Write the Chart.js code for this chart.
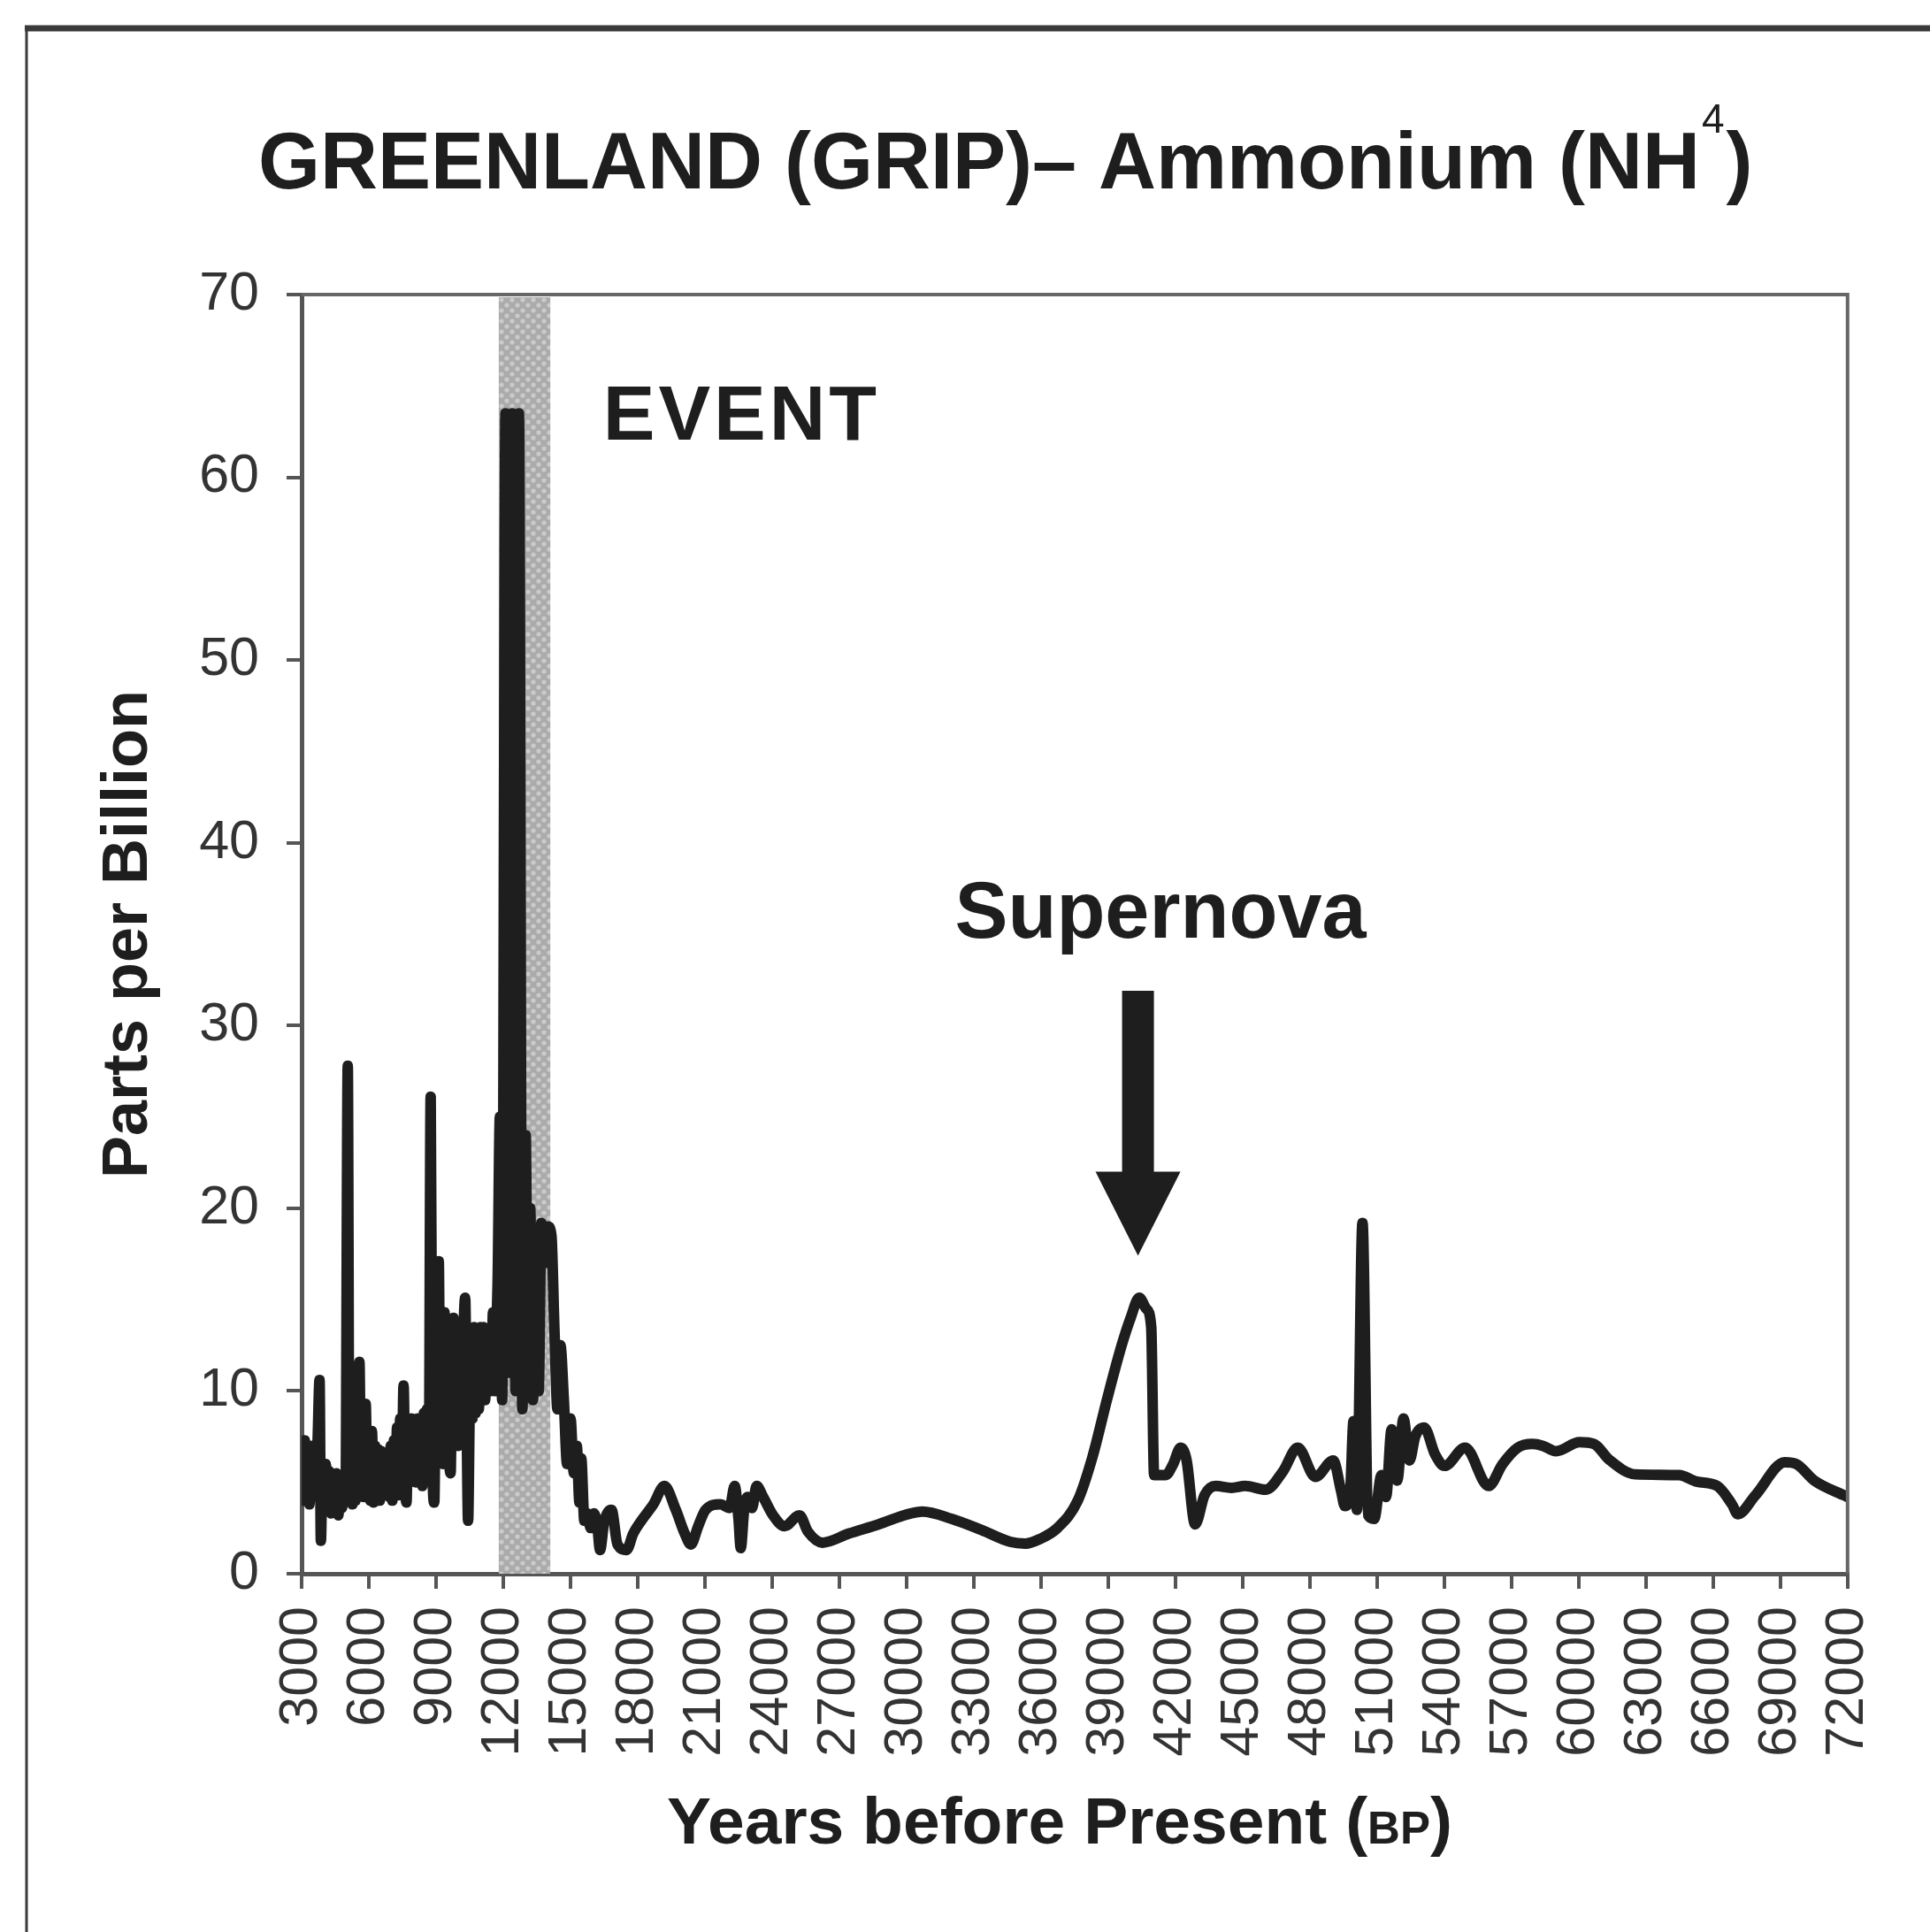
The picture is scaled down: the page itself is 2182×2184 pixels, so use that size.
<!DOCTYPE html>
<html>
<head>
<meta charset="utf-8">
<title>GREENLAND (GRIP) – Ammonium</title>
<script src="https://cdn.jsdelivr.net/npm/chart.js@4.4.1/dist/chart.umd.min.js"></script>
<style>
  html, body { margin: 0; padding: 0; background: #fff; }
  #graph-container { width: 2182px; height: 2184px; position: relative; }
</style>
</head>
<body>
<div id="graph-container"><canvas id="grip"></canvas></div>
<script>
// GRIP ice core, ammonium concentration against age
const years = [
  3000, 3070, 3140, 3210, 3280, 3350, 3420, 3490, 3560, 3640,
  3720, 3800, 3860, 3930, 4000, 4080, 4160, 4240, 4320, 4400,
  4480, 4560, 4640, 4720, 4800, 4880, 4960, 5060, 5130, 5200,
  5270, 5340, 5410, 5480, 5580, 5650, 5720, 5790, 5860, 5930,
  6000, 6070, 6140, 6210, 6280, 6350, 6420, 6490, 6560, 6630,
  6700, 6770, 6840, 6910, 6980, 7050, 7120, 7190, 7260, 7330,
  7400, 7470, 7550, 7620, 7680, 7750, 7820, 7900, 7970, 8040,
  8110, 8180, 8250, 8320, 8390, 8460, 8530, 8600, 8680, 8760,
  8840, 8920, 8990, 9060, 9120, 9190, 9250, 9320, 9380, 9450,
  9520, 9590, 9650, 9720, 9780, 9850, 9920, 9990, 10060, 10130,
  10200, 10300, 10370, 10430, 10500, 10560, 10630, 10700, 10770, 10840,
  10910, 10980, 11050, 11120, 11190, 11260, 11330, 11400, 11470, 11540,
  11610, 11680, 11750, 11850, 11950, 12100, 12250, 12400, 12550, 12700,
  12850, 13000, 13100, 13200, 13320, 13450, 13580, 13700, 13850, 14000,
  14150, 14280, 14420, 14550, 14700, 14850, 15000, 15150, 15280, 15400,
  15480, 15620, 15750, 15900, 16050, 16200, 16320, 16500, 16830, 17100,
  17500, 17800, 18160, 18700, 19190, 19700, 20100, 20370, 20700, 21030,
  21690, 22100, 22330, 22500, 22600, 22750, 22900, 23100, 23310, 23600,
  24040, 24560, 25220, 25600, 26250, 27430, 28750, 30060, 30710, 32020,
  33330, 34640, 35300, 35950, 36730, 37640, 38300, 38960, 39600, 40000,
  40390, 40700, 40920, 41050, 41570, 41900, 42230, 42500, 42880, 43300,
  43800, 44500, 45110, 46030, 46800, 47460, 48250, 49040, 49400, 49560,
  49800, 49950, 50100, 50350, 50600, 50870, 51200, 51400, 51650, 51900,
  52180, 52450, 52700, 53100, 53600, 54010, 54930, 55980, 56600, 57280,
  57940, 58400, 58990, 60040, 60690, 61350, 62520, 64480, 65270, 66190,
  66840, 67100, 67890, 69200, 69720, 70510, 71820, 72000
];

const ammonium = [
  6.6, 4.0, 7.3, 4.5, 6.5, 3.8, 7.0, 4.2, 6.8, 4.6,
  7.5, 10.6, 1.8, 5.5, 3.4, 6.0, 3.6, 5.6, 3.3, 5.2,
  3.5, 5.5, 3.2, 4.8, 3.6, 4.5, 4.0, 27.8, 4.5, 8.0,
  3.8, 9.5, 4.0, 8.5, 11.6, 4.5, 9.0, 4.2, 9.3, 4.5,
  7.5, 4.0, 7.8, 3.9, 7.0, 4.2, 6.8, 4.0, 6.7, 4.3,
  6.5, 4.4, 6.2, 4.2, 7.0, 4.0, 7.3, 4.5, 8.0, 4.3,
  8.5, 4.8, 10.3, 5.0, 3.9, 8.0, 5.0, 8.5, 5.2, 8.0,
  5.0, 8.5, 5.4, 8.2, 4.8, 8.8, 5.4, 9.0, 6.0, 26.1,
  6.0, 3.9, 10.0, 6.0, 17.1, 6.5, 12.5, 6.0, 14.3, 7.0,
  13.5, 6.5, 5.5, 13.0, 14.0, 7.5, 12.5, 7.0, 11.5, 7.5,
  12.0, 15.1, 8.0, 2.9, 9.0, 13.2, 8.5, 13.5, 8.8, 12.0,
  9.0, 13.5, 9.5, 13.5, 9.5, 12.5, 10.0, 13.0, 10.0, 14.3,
  10.0, 13.0, 16.0, 25.0, 9.5, 63.5, 11.0, 63.5, 10.0, 63.5,
  9.0, 24.0, 11.0, 20.0, 9.5, 13.0, 10.0, 19.2, 17.0, 19.0,
  18.5, 13.5, 9.0, 12.5, 9.6, 6.0, 8.5, 5.5, 7.0, 3.9,
  6.3, 2.9, 3.3, 2.5, 3.3, 2.6, 1.3, 2.8, 3.5, 1.6,
  1.3, 2.2, 2.9, 3.8, 4.8, 3.5, 2.2, 1.6, 2.6, 3.5,
  3.8, 3.6, 4.8, 3.0, 1.4, 3.5, 4.2, 3.6, 4.8, 4.2,
  3.2, 2.6, 3.2, 2.3, 1.7, 2.2, 2.7, 3.26, 3.4, 3.0,
  2.4, 1.74, 1.65, 1.9, 2.5, 4.0, 6.4, 9.6, 12.5, 14.0,
  15.1, 14.5, 13.5, 5.4, 5.4, 6.0, 6.9, 6.2, 2.7, 4.3,
  4.8, 4.7, 4.8, 4.6, 5.6, 6.9, 5.3, 6.2, 4.5, 3.7,
  4.5, 8.35, 3.5, 19.2, 3.2, 3.0, 5.4, 4.2, 7.9, 5.1,
  8.5, 6.2, 7.5, 8.0, 6.5, 5.9, 6.9, 4.8, 6.0, 6.9,
  7.1, 7.0, 6.7, 7.2, 7.1, 6.25, 5.44, 5.4, 5.04, 4.8,
  3.8, 3.26, 4.3, 6.1, 6.0, 5.1, 4.3, 4.2
];

// Shaded event interval (years BP)
const eventSpan = [11800, 14100];

// Axis ticks
const yTicks = { min: 0, max: 70, step: 10 };
const xTicks = { min: 3000, max: 72000, step: 3000 };

document.addEventListener('DOMContentLoaded', () => {
  const FONT = '"Liberation Sans", Arial, Helvetica, sans-serif';
  const INK = '#1e1e1e';
  const canvas = document.getElementById('grip');
  const ctx = canvas.getContext('2d');

  // halftone grey used for the event band
  function bandPattern(c) {
    const tile = document.createElement('canvas');
    tile.width = 12;
    tile.height = 12;
    const t = tile.getContext('2d');
    t.fillStyle = '#ababab';
    t.fillRect(0, 0, 12, 12);
    t.fillStyle = '#cbcbcb';
    t.beginPath(); t.arc(3, 3, 2.6, 0, Math.PI * 2); t.fill();
    t.beginPath(); t.arc(9, 9, 2.6, 0, Math.PI * 2); t.fill();
    return c.createPattern(tile, 'repeat');
  }

  const decorations = {
    id: 'decorations',
    beforeDatasetsDraw(chart) {
      const { ctx, chartArea, scales: { x } } = chart;
      const x0 = x.getPixelForValue(eventSpan[0]);
      const x1 = x.getPixelForValue(eventSpan[1]);
      ctx.save();
      ctx.fillStyle = bandPattern(ctx);
      ctx.fillRect(x0, chartArea.top + 3, x1 - x0, chartArea.bottom - chartArea.top - 3);
      ctx.restore();
    },
    afterDraw(chart) {
      const { ctx, chartArea, scales: { x, y } } = chart;
      ctx.save();

      // outer frame
      ctx.strokeStyle = '#3a3a3a';
      ctx.lineWidth = 7;
      ctx.beginPath();
      ctx.moveTo(28, 32);
      ctx.lineTo(2182, 32);
      ctx.stroke();
      ctx.lineWidth = 3;
      ctx.beginPath();
      ctx.moveTo(30, 30);
      ctx.lineTo(30, 2184);
      ctx.stroke();

      // top and right sides of the plot box
      ctx.strokeStyle = '#666';
      ctx.lineWidth = 4;
      ctx.beginPath();
      ctx.moveTo(chartArea.left, chartArea.top);
      ctx.lineTo(chartArea.right, chartArea.top);
      ctx.lineTo(chartArea.right, chartArea.bottom);
      ctx.stroke();

      ctx.fillStyle = INK;
      ctx.textBaseline = 'alphabetic';
      ctx.textAlign = 'left';

      // main title with superscript
      ctx.font = 'bold 90px ' + FONT;
      const main = 'GREENLAND (GRIP)– Ammonium (NH';
      let tx = 292;
      ctx.fillText(main, tx, 213);
      tx += ctx.measureText(main).width;
      ctx.font = '46px ' + FONT;
      ctx.fillText('4', tx + 2, 150);
      tx += ctx.measureText('4').width + 4;
      ctx.font = 'bold 90px ' + FONT;
      ctx.fillText(')', tx, 213);

      // x axis title with small capitals
      const big = 'bold 75px ' + FONT;
      const small = 'bold 51px ' + FONT;
      const parts = [['Years before Present (', big], ['BP', small], [')', big]];
      let total = 0;
      parts.forEach(([s, f]) => { ctx.font = f; total += ctx.measureText(s).width; });
      let ax = 1198 - total / 2;
      parts.forEach(([s, f]) => {
        ctx.font = f;
        ctx.fillText(s, ax, 2084);
        ax += ctx.measureText(s).width;
      });

      // labels inside the plot
      ctx.font = 'bold 88px ' + FONT;
      ctx.letterSpacing = '4px';
      ctx.fillText('EVENT', x.getPixelForValue(16450), y.getPixelForValue(62.05));
      ctx.letterSpacing = '0px';
      ctx.font = 'bold 90px ' + FONT;
      ctx.fillText('Supernova', x.getPixelForValue(32150), y.getPixelForValue(34.8));

      // arrow pointing down to the supernova peak
      const ax0 = x.getPixelForValue(40330);
      const shaftTop = y.getPixelForValue(31.9);
      const headBase = y.getPixelForValue(22.0);
      const tip = y.getPixelForValue(17.4);
      ctx.beginPath();
      ctx.moveTo(ax0 - 18, shaftTop);
      ctx.lineTo(ax0 + 18, shaftTop);
      ctx.lineTo(ax0 + 18, headBase);
      ctx.lineTo(ax0 + 48, headBase);
      ctx.lineTo(ax0, tip);
      ctx.lineTo(ax0 - 48, headBase);
      ctx.lineTo(ax0 - 18, headBase);
      ctx.closePath();
      ctx.fill();

      ctx.restore();
    }
  };

  new Chart(ctx, {
    type: 'line',
    data: {
      datasets: [{
        label: 'Ammonium (ppb)',
        data: years.map((yr, i) => ({ x: yr, y: ammonium[i] })),
        borderColor: INK,
        borderWidth: 12,
        borderJoinStyle: 'round',
        borderCapStyle: 'round',
        cubicInterpolationMode: 'monotone',
        pointRadius: 0,
        fill: false
      }]
    },
    options: {
      responsive: true,
      maintainAspectRatio: false,
      animation: false,
      layout: { padding: { top: 333, right: 87, left: 99, bottom: 0 } },
      plugins: {
        legend: { display: false },
        tooltip: { enabled: false },
        title: { display: false }
      },
      scales: {
        x: {
          type: 'linear',
          min: xTicks.min,
          max: xTicks.max,
          afterFit: scale => { scale.height = 405; },
          ticks: {
            stepSize: xTicks.step,
            autoSkip: false,
            minRotation: 90,
            maxRotation: 90,
            padding: 20,
            color: '#333',
            font: { family: FONT, size: 61 },
            callback: v => String(v)
          },
          grid: { drawOnChartArea: false, drawTicks: true, tickLength: 17, color: '#555', lineWidth: 4 },
          border: { display: true, color: '#555', width: 5 }
        },
        y: {
          min: yTicks.min,
          max: yTicks.max,
          afterFit: scale => { scale.width = 242; },
          title: {
            display: true,
            text: 'Parts per Billion',
            color: INK,
            font: { family: FONT, size: 72, weight: 'bold' },
            padding: { top: 4, bottom: 4 }
          },
          ticks: {
            stepSize: yTicks.step,
            padding: 31,
            color: '#333',
            font: { family: FONT, size: 61 }
          },
          grid: { drawOnChartArea: false, drawTicks: true, tickLength: 17, color: '#555', lineWidth: 4 },
          border: { display: true, color: '#555', width: 5 }
        }
      }
    },
    plugins: [decorations]
  });
});
</script>
</body>
</html>
